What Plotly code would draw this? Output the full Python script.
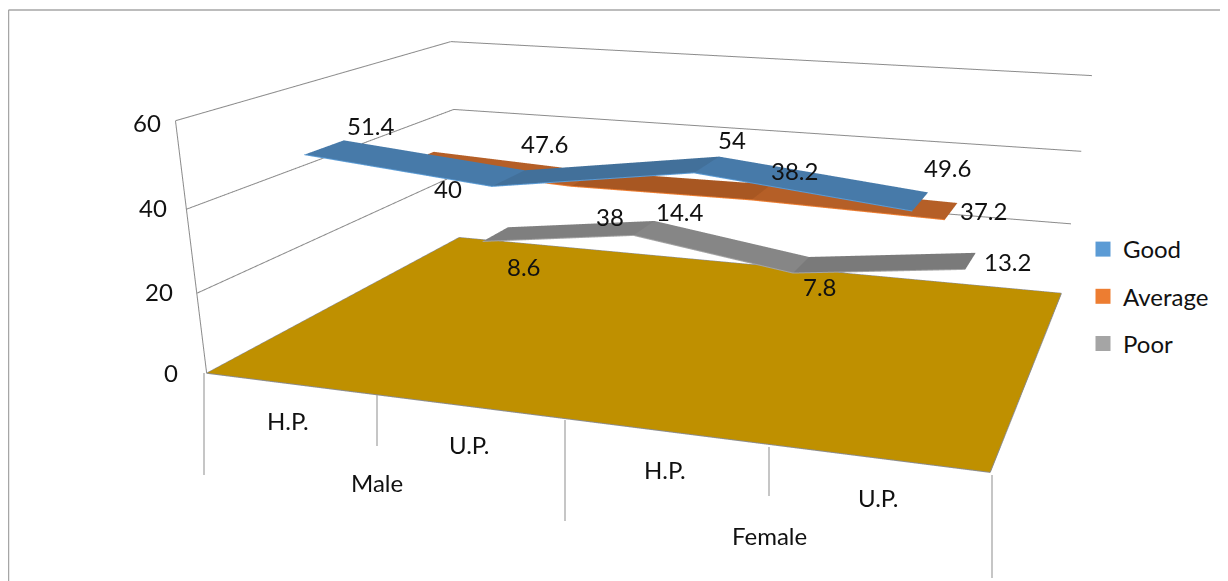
import numpy as np
import plotly.graph_objects as go

categories = ["H.P.", "U.P.", "H.P.", "U.P."]
groups = ["Male", "Female"]
series_names = ["Good", "Average", "Poor"]
good = [51.4, 47.6, 54, 49.6]
average = [40, 38, 38.2, 37.2]
poor = [8.6, 14.4, 7.8, 13.2]
z_ticks = [0, 20, 40, 60]

# Figure canvas and 3D view (the page's 8 px body margin is allowed for in px/py).
Wf, Hf = 1220, 1307
RIBBON_HALF_DEPTH = 0.195
EYE = dict(x=0.6549, y=-2.0689, z=0.4883)
CENTER = dict(x=0.0647, y=-0.3898, z=-0.475)
UP = dict(x=0.0327, y=-0.1065, z=1.0)
ASPECT = dict(x=1, y=0.7807, z=0.3126)
# Data-label pixel offsets from their points, per series.
LABEL_OFFSETS = [
    [(46, -22), (36, -35), (25, -25), (27, -34)],
    [(30, 30), (26, 38), (33, -22), (32, -1)],
    [(29, 32), (36, -17), (19, 22), (37, 1)],
]
LIT = dict(ambient=1, diffuse=0, specular=0, fresnel=0)
hw = RIBBON_HALF_DEPTH


def seg_mesh(vals, yc, colors):
    X, Y, Z = [], [], []
    for x, v in zip(np.arange(len(vals)) + 0.5, vals):
        X += [x, x]
        Y += [yc - hw, yc + hw]
        Z += [v, v]
    I, J, K, FC = [], [], [], []
    for k in range(len(vals) - 1):
        a = 2 * k
        I += [a, a + 1]
        J += [a + 1, a + 3]
        K += [a + 2, a + 2]
        FC += [colors[k]] * 2
    return go.Mesh3d(x=X, y=Y, z=Z, i=I, j=J, k=K, facecolor=FC, flatshading=True,
                     lighting=LIT, showlegend=False, hoverinfo="skip")


fig = go.Figure()
fig.add_trace(go.Mesh3d(x=[0, 4, 4, 0], y=[0, 0, 3, 3], z=[0, 0, 0, 0], i=[0, 0], j=[1, 2], k=[2, 3],
                        color="#BF9000", lighting=LIT, showlegend=False, hoverinfo="skip"))


def line(x, y, z, col="#8C8C8C", w=2):
    fig.add_trace(go.Scatter3d(x=x, y=y, z=z, mode="lines", line=dict(color=col, width=w),
                               showlegend=False, hoverinfo="skip"))


for t in z_ticks:
    line([-0.09, 0, 0, 4], [0, 0, 3, 3], [t] * 4)
line([0, 0], [0, 0], [0, 60])
line([0, 4], [0, 0], [0, 0])
line([4, 4], [0, 3], [0, 0])

for vals, yc, cols, edge in [
    (poor, 2.5, ["#7F7F7F", "#868686", "#7A7A7A"], "#A5A5A5"),
    (average, 1.5, ["#B55F27", "#A85722", "#B55F27"], "#ED7D31"),
    (good, 0.5, ["#477AA9", "#42709A", "#477AA9"], "#5B9BD5"),
]:
    fig.add_trace(seg_mesh(vals, yc, cols))
    line(np.arange(4) + 0.5, [yc - hw] * 4, vals, edge, 2)

for n, c_ in zip(series_names, ["#5B9BD5", "#ED7D31", "#A5A5A5"]):
    fig.add_trace(go.Scatter3d(x=[None], y=[None], z=[None], mode="markers", name=n, legendgroup=n,
                               marker=dict(symbol="square", size=15, color=c_)))


def px(x):
    return (x - 8) / Wf


def py(y):
    return 1 - (y - 8) / Hf


shapes = []


def seg(x0, y0, x1, y1, col="#A0A0A0", w=1.2):
    shapes.append(dict(type="line", xref="paper", yref="paper", x0=px(x0), y0=py(y0), x1=px(x1), y1=py(y1),
                       line=dict(color=col, width=w)))


seg(8.5, 10, 8.5, 581, "#A6A6A6", 1.5)
seg(8.5, 10, 1228, 10, "#A6A6A6", 1.5)
for x, y0, y1 in [(204, 373, 475), (377, 395, 446), (565, 420, 521), (769, 447, 496), (992, 475, 578)]:
    seg(x, y0, x, y1)

ann = []


def text(t, x, y):
    ann.append(dict(text=t, xref="paper", yref="paper", x=px(x), y=py(y), xanchor="center", yanchor="middle",
                    showarrow=False))


for t, (x, y) in zip(categories + groups, [(288, 420), (469, 444), (665, 469), (878, 498), (377, 483), (769, 535)]):
    text(t, x, y)
for t, (x, y) in zip(z_ticks, [(171, 372), (159, 291), (153, 207), (147, 122)]):
    text(str(t), x, y)

sann = []
for offs, vals, yc in zip(LABEL_OFFSETS, [good, average, poor], [0.5, 1.5, 2.5]):
    for i, v in enumerate(vals):
        sann.append(dict(x=i + 0.5, y=yc, z=v, text=str(v), showarrow=False, xshift=offs[i][0], yshift=-offs[i][1],
                         xanchor="center", yanchor="middle"))

fig.update_layout(
    width=Wf, height=Hf, margin=dict(l=0, r=0, t=0, b=0), paper_bgcolor="white",
    font=dict(family="Lato", size=24, color="#111"), shapes=shapes, annotations=ann,
    legend=dict(x=px(1083), y=py(227), xanchor="left", yanchor="top", tracegroupgap=13, font=dict(size=24)),
    scene=dict(
        domain=dict(x=[0, 1], y=[0, 1]), annotations=sann,
        xaxis=dict(range=[0, 4], visible=False), yaxis=dict(range=[0, 3], visible=False),
        zaxis=dict(range=[0, 60], visible=False),
        aspectmode="manual", aspectratio=ASPECT,
        camera=dict(eye=EYE, center=CENTER, up=UP, projection=dict(type="perspective")),
    ),
)
fig.write_html("out.html")
